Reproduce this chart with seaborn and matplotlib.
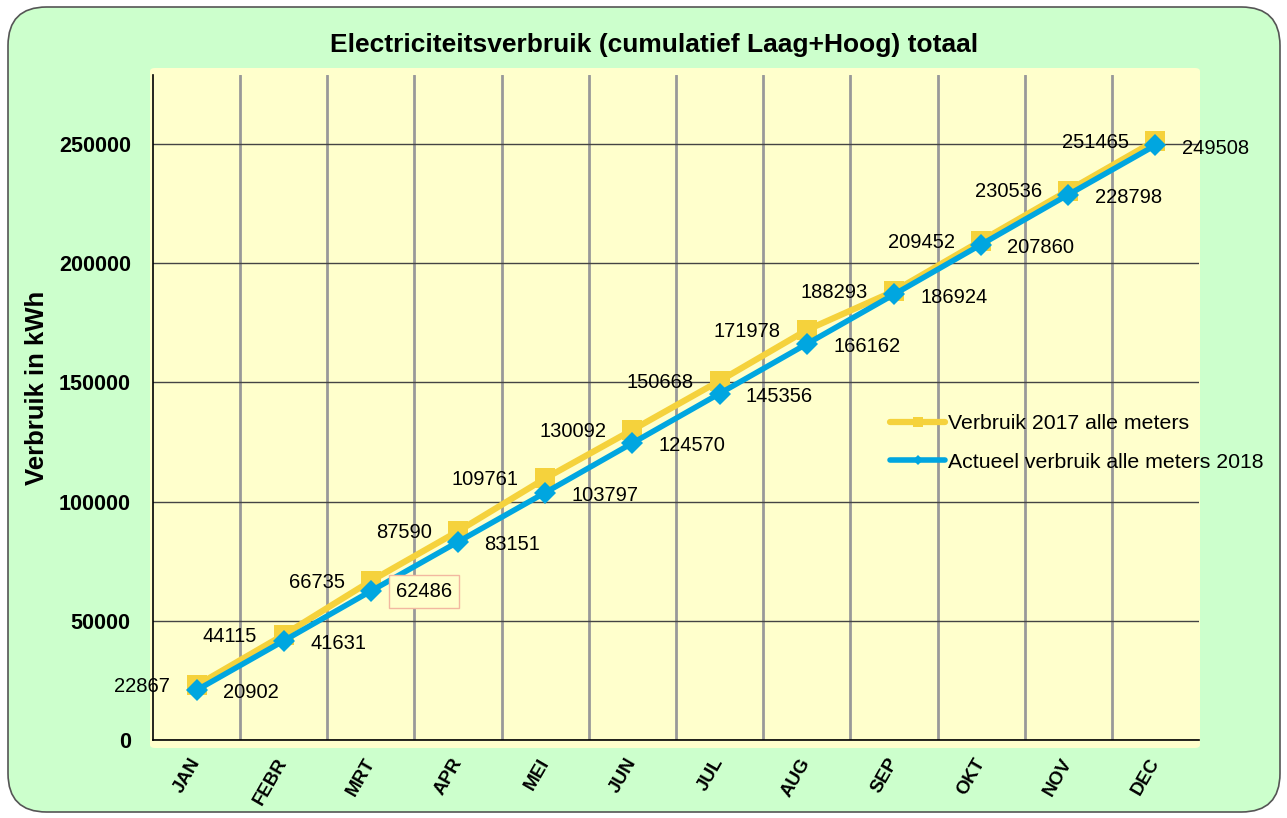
import matplotlib
matplotlib.use("Agg")
import matplotlib.pyplot as plt
from matplotlib.patches import FancyBboxPatch
from matplotlib.ticker import MultipleLocator, FixedLocator
import seaborn as sns
import pandas as pd

months = ["JAN", "FEBR", "MRT", "APR", "MEI", "JUN", "JUL", "AUG", "SEP", "OKT", "NOV", "DEC"]
verbruik_2017 = [22867, 44115, 66735, 87590, 109761, 130092, 150668, 171978, 188293, 209452, 230536, 251465]
verbruik_2018 = [20902, 41631, 62486, 83151, 103797, 124570, 145356, 166162, 186924, 207860, 228798, 249508]
label_2017 = "Verbruik 2017 alle meters"
label_2018 = "Actueel verbruik alle meters 2018"

df = pd.DataFrame({"maand": months, "v2017": verbruik_2017, "v2018": verbruik_2018})

sns.set_style("white")
plt.rcParams["font.family"] = ["Liberation Sans", "DejaVu Sans"]
plt.rcParams["text.color"] = "black"
plt.rcParams["axes.labelcolor"] = "black"
plt.rcParams["xtick.color"] = "black"
plt.rcParams["ytick.color"] = "black"

yellow = "#F5D23C"
blue = "#00A6E0"
green_bg = "#CCFFCC"
yellow_bg = "#FFFFCC"

fig = plt.figure(figsize=(12.87, 8.18), dpi=100)
fig.patch.set_facecolor("white")

# rounded green background
fig.patches.append(FancyBboxPatch((8 / 1287, 6 / 818), 1272 / 1287, 805 / 818,
                                  boxstyle="round,pad=0,rounding_size=0.03",
                                  transform=fig.transFigure, facecolor=green_bg,
                                  edgecolor="#555555", linewidth=1.2, zorder=0,
                                  mutation_aspect=1287 / 818))
# yellow plot area
fig.patches.append(FancyBboxPatch((150 / 1287, 70 / 818), 1050 / 1287, 680 / 818,
                                  boxstyle="round,pad=0,rounding_size=0.004",
                                  transform=fig.transFigure, facecolor=yellow_bg,
                                  edgecolor="none", zorder=0.5))

ax = fig.add_axes([153 / 1287, 78 / 818, 1046 / 1287, 665 / 818])
ax.set_zorder(2)
ax.set_facecolor(yellow_bg)
ax.patch.set_alpha(0)

sns.lineplot(data=df, x="maand", y="v2017", ax=ax, color=yellow, linewidth=4.5,
             marker="s", markersize=14, markeredgewidth=0, label=label_2017, sort=False)
sns.lineplot(data=df, x="maand", y="v2018", ax=ax, color=blue, linewidth=4,
             marker="D", markersize=11, markeredgewidth=0, label=label_2018, sort=False)

ax.set_xlim(-0.5, 11.5)
ax.set_ylim(0, 279000)
ax.yaxis.set_major_locator(MultipleLocator(50000))
ax.xaxis.set_minor_locator(FixedLocator([i + 0.5 for i in range(11)]))
ax.grid(axis="y", which="major", color="#444444", linewidth=1)
ax.grid(axis="x", which="minor", color="#999999", linewidth=2)
ax.grid(axis="x", which="major", visible=False)
ax.set_axisbelow(True)

for s in ["top", "right"]:
    ax.spines[s].set_visible(False)
ax.spines["left"].set_color("black")
ax.spines["bottom"].set_color("black")
ax.spines["left"].set_linewidth(1.2)
ax.spines["bottom"].set_linewidth(1.2)

ax.tick_params(axis="both", which="both", length=0)
ax.tick_params(axis="y", pad=16)
yt = [0, 50000, 100000, 150000, 200000, 250000]
ax.set_yticks(yt)
ax.set_yticklabels([str(v) for v in yt], fontsize=15.5, fontweight="bold")
ax.set_xticks(range(len(months)))
ax.set_xticklabels(months, fontsize=13.5, fontweight="bold", rotation=60,
                   ha="right", va="center", rotation_mode="anchor")
ax.tick_params(axis="x", pad=14)
ax.set_xlabel("")
ax.set_ylabel("")
fig.text(37 / 1287, 1 - 388 / 818, "Verbruik in kWh", rotation=90, ha="center",
         va="center", fontsize=18.5, fontweight="bold")

# data labels
for i, (a, b) in enumerate(zip(verbruik_2017, verbruik_2018)):
    ax.annotate(str(a), (i, a), xytext=(-19, -1), textcoords="offset points",
                ha="right", va="center", fontsize=14.5)
    if b == 62486:
        ax.annotate(str(b), (i, b), xytext=(18, 0), textcoords="offset points",
                    ha="left", va="center", fontsize=14.5,
                    bbox=dict(boxstyle="square,pad=0.35", facecolor=yellow_bg,
                              edgecolor="#F2B8A0", linewidth=1))
    else:
        ax.annotate(str(b), (i, b), xytext=(19, -2), textcoords="offset points",
                    ha="left", va="center", fontsize=14.5)

leg = ax.legend(loc="center left", bbox_to_anchor=(0.7046, 0.4466), frameon=False,
                fontsize=15.3, handlelength=2.6, handletextpad=0.15, labelspacing=0.9,
                markerscale=0.5, borderaxespad=0, borderpad=0)

fig.text(654 / 1287, 1 - 45 / 818, "Electriciteitsverbruik (cumulatief Laag+Hoog) totaal",
         ha="center", va="center", fontsize=19, fontweight="bold")

fig.savefig("out.png", dpi=100, facecolor=fig.get_facecolor())
